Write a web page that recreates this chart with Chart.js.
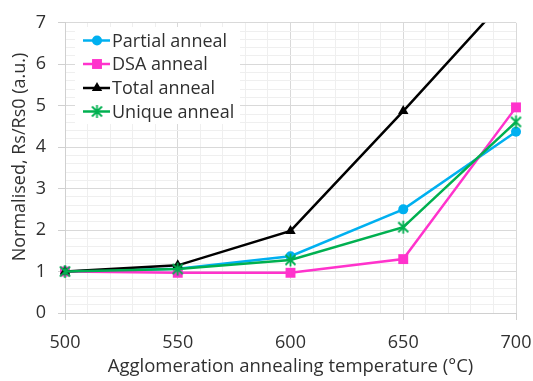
<!DOCTYPE html>
<html>
<head>
<meta charset="utf-8">
<script src="https://cdn.jsdelivr.net/npm/chart.js@4.4.1/dist/chart.umd.min.js"></script>
<style>
html,body{margin:0;padding:0;background:#fff;}
#wrap{width:533px;height:381px;position:relative;}
</style>
</head>
<body>
<div id="wrap"><canvas id="c" width="533" height="381"></canvas></div>
<script>
// ---- data ----
const temperatures = [500, 550, 600, 650, 700];
const partialAnneal = [1.00, 1.07, 1.37, 2.50, 4.37];
const dsaAnneal     = [1.00, 0.97, 0.97, 1.30, 4.96];
const totalAnneal   = [1.00, 1.15, 1.98, 4.87, 7.85];
const uniqueAnneal  = [1.00, 1.06, 1.28, 2.07, 4.61];
const seriesNames = ['Partial anneal', 'DSA anneal', 'Total anneal', 'Unique anneal'];
const xTickLabels = [500, 550, 600, 650, 700];
const yTickLabels = [0, 1, 2, 3, 4, 5, 6, 7];
const xTitle = 'Agglomeration annealing temperature (°C)';
const yTitle = 'Normalised, Rs/Rs0 (a.u.)';

const FONT = "'Open Sans', sans-serif";
const TEXT = '#303030';
const colors = ['#00B0F0', '#FF33CC', '#000000', '#00B050'];

function starCanvas(color) {
  const c = document.createElement('canvas');
  c.width = 15; c.height = 15;
  const g = c.getContext('2d');
  g.strokeStyle = color; g.lineWidth = 1.8; g.lineCap = 'butt';
  g.beginPath();
  g.moveTo(7.5, 1); g.lineTo(7.5, 14);
  g.moveTo(2.5, 2.5); g.lineTo(12.5, 12.5);
  g.moveTo(12.5, 2.5); g.lineTo(2.5, 12.5);
  g.stroke();
  return c;
}
const starImg = starCanvas(colors[3]);

const toPts = arr => arr.map((v, i) => ({x: temperatures[i], y: v}));
const styles = ['circle', 'rect', 'triangle', starImg];
const radii = [5, 7, 6, 7];
const seriesData = [partialAnneal, dsaAnneal, totalAnneal, uniqueAnneal];

const datasets = seriesData.map((arr, i) => ({
  label: seriesNames[i],
  data: toPts(arr),
  borderColor: colors[i],
  backgroundColor: colors[i],
  borderWidth: 2.5,
  pointStyle: styles[i],
  pointRadius: radii[i],
  pointBorderWidth: 0,
  pointBackgroundColor: colors[i],
  tension: 0,
  order: 4 - i,
  clip: i === 2 ? {left: 10, top: 0, right: 10, bottom: 10} : false
}));

const isMajorX = v => xTickLabels.includes(Math.round(v)) && Math.abs(v - Math.round(v)) < 1e-6;
const isMajorY = v => Math.abs(v - Math.round(v)) < 1e-6 && yTickLabels.includes(Math.round(v));

const legendPlugin = {
  id: 'inLegend',
  afterDatasetsDraw(chart) {
    const ctx = chart.ctx;
    ctx.save();
    ctx.fillStyle = '#ffffff';
    ctx.fillRect(75, 27, 165, 97);
    const rows = [40.5, 64, 88, 111.5];
    ctx.font = "18px " + FONT;
    ctx.textBaseline = 'middle';
    ctx.textAlign = 'left';
    rows.forEach((y, i) => {
      ctx.strokeStyle = colors[i];
      ctx.lineWidth = 2.5;
      ctx.beginPath();
      ctx.moveTo(83, y); ctx.lineTo(110, y);
      ctx.stroke();
      ctx.fillStyle = colors[i];
      Chart.helpers.drawPoint(ctx, {pointStyle: styles[i], radius: radii[i], borderWidth: 0, rotation: 0}, 97, y);
      ctx.fillStyle = TEXT;
      ctx.fillText(seriesNames[i], 112, y + 1);
    });
    // y-axis title
    ctx.translate(20, 157);
    ctx.rotate(-Math.PI / 2);
    ctx.textAlign = 'center';
    ctx.textBaseline = 'middle';
    ctx.fillText(yTitle, 0, 0);
    ctx.restore();
  }
};

new Chart(document.getElementById('c'), {
  type: 'line',
  data: { datasets },
  plugins: [legendPlugin],
  options: {
    responsive: false,
    animation: false,
    devicePixelRatio: 1,
    layout: { padding: { top: 15, right: 17, left: 0, bottom: 0 } },
    plugins: { legend: { display: false }, tooltip: { enabled: false } },
    scales: {
      x: {
        type: 'linear',
        min: 500, max: 700,
        afterFit(scale) { scale.height = 68; scale.paddingLeft = 0; scale.paddingRight = 0; },
        ticks: {
          stepSize: 10,
          autoSkip: false,
          maxRotation: 0,
          padding: 12,
          color: TEXT,
          font: { family: FONT, size: 18 },
          callback: v => isMajorX(v) ? String(Math.round(v)) : ''
        },
        grid: {
          color: c => isMajorX(c.tick.value) ? '#d9d9d9' : '#efefef',
          tickColor: c => isMajorX(c.tick.value) ? '#d0d0d0' : 'rgba(0,0,0,0)',
          tickLength: 7,
          lineWidth: 1
        },
        border: { color: '#d0d0d0', width: 1 },
        title: {
          display: true,
          text: xTitle,
          color: TEXT,
          font: { family: FONT, size: 18.5 },
          padding: { top: 0, bottom: 3 }
        }
      },
      y: {
        min: 0, max: 7,
        afterFit(scale) { scale.width = 65; },
        ticks: {
          stepSize: 0.2,
          autoSkip: false,
          padding: 12,
          color: TEXT,
          font: { family: FONT, size: 18 },
          callback: v => isMajorY(v) ? String(Math.round(v)) : ''
        },
        grid: {
          color: c => isMajorY(c.tick.value) ? '#d9d9d9' : '#efefef',
          tickColor: c => isMajorY(c.tick.value) ? '#d0d0d0' : 'rgba(0,0,0,0)',
          tickLength: 7,
          lineWidth: 1
        },
        border: { color: '#d0d0d0', width: 1 },
        title: { display: false }
      }
    }
  }
});
</script>
</body>
</html>
